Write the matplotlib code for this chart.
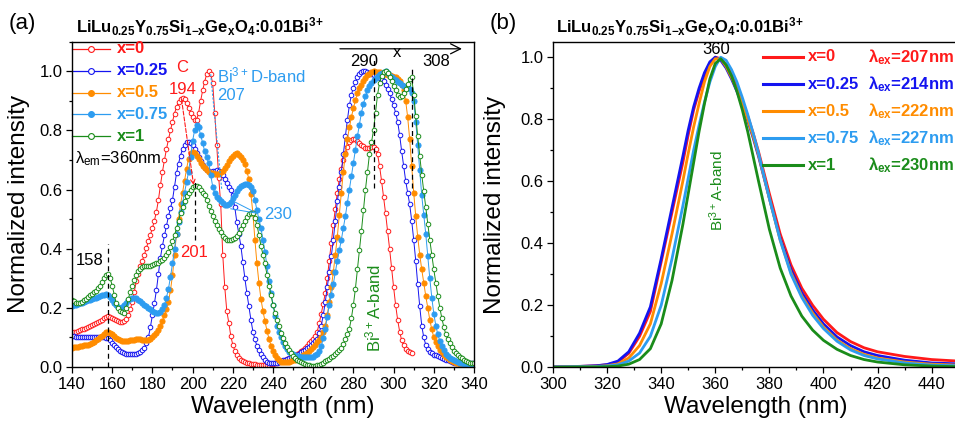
import numpy as np
import matplotlib
matplotlib.use('Agg')
import matplotlib.pyplot as plt
from matplotlib.ticker import MultipleLocator

plt.rcParams['font.family'] = ['Liberation Sans', 'DejaVu Sans']
plt.rcParams['mathtext.default'] = 'regular'

# ---- (a) excitation spectra, lambda_em = 360 nm, 1 nm steps ----
wl_exc = np.arange(140, 341, 1)
exc_x0 = [0.115, 0.117, 0.12, 0.122, 0.125, 0.127, 0.13, 0.132, 0.135, 0.138,
          0.142, 0.145, 0.148, 0.151, 0.155, 0.16, 0.165, 0.17, 0.172, 0.17,
          0.166, 0.163, 0.16, 0.156, 0.152, 0.152, 0.156, 0.164, 0.175, 0.195,
          0.22, 0.255, 0.29, 0.315, 0.34, 0.36, 0.38, 0.402, 0.425, 0.447,
          0.47, 0.495, 0.525, 0.565, 0.615, 0.66, 0.70, 0.737, 0.77, 0.80,
          0.83, 0.857, 0.88, 0.895, 0.905, 0.908, 0.905, 0.892, 0.875, 0.86,
          0.845, 0.835, 0.835, 0.86, 0.90, 0.935, 0.965, 0.99, 1.0, 0.99,
          0.96, 0.86, 0.75, 0.64, 0.55, 0.38, 0.27, 0.19, 0.15, 0.105,
          0.075, 0.055, 0.04, 0.031, 0.025, 0.021, 0.018, 0.015, 0.012, 0.011,
          0.01, 0.009, 0.008, 0.007, 0.007, 0.007, 0.007, 0.007, 0.008, 0.009,
          0.01, 0.012, 0.014, 0.016, 0.019, 0.021, 0.024, 0.026, 0.029, 0.032,
          0.036, 0.04, 0.045, 0.049, 0.053, 0.059, 0.065, 0.072, 0.08, 0.087,
          0.095, 0.105, 0.12, 0.148, 0.18, 0.213, 0.25, 0.30, 0.36, 0.42,
          0.48, 0.535, 0.59, 0.635, 0.67, 0.70, 0.725, 0.745, 0.76, 0.768,
          0.772, 0.77, 0.765, 0.758, 0.752, 0.746, 0.742, 0.741, 0.742, 0.744,
          0.745, 0.738, 0.72, 0.68, 0.63, 0.575, 0.52, 0.46, 0.40, 0.335,
          0.27, 0.21, 0.16, 0.12, 0.09, 0.073, 0.062, 0.055, 0.05, 0.046]
exc_x025 = [0.105, 0.104, 0.103, 0.102, 0.102, 0.101, 0.101, 0.10, 0.10, 0.10,
            0.10, 0.10, 0.10, 0.10, 0.10, 0.10, 0.10, 0.099, 0.097, 0.09,
            0.082, 0.074, 0.066, 0.06, 0.054, 0.05, 0.047, 0.045, 0.044, 0.044,
            0.044, 0.044, 0.045, 0.047, 0.05, 0.056, 0.065, 0.08, 0.10, 0.135,
            0.175, 0.215, 0.26, 0.315, 0.37, 0.41, 0.445, 0.478, 0.51, 0.538,
            0.565, 0.61, 0.655, 0.688, 0.715, 0.737, 0.752, 0.76, 0.762, 0.758,
            0.75, 0.738, 0.725, 0.71, 0.695, 0.682, 0.672, 0.666, 0.662, 0.661,
            0.662, 0.664, 0.665, 0.664, 0.66, 0.65, 0.635, 0.623, 0.61, 0.597,
            0.58, 0.54, 0.49, 0.45, 0.41, 0.355, 0.30, 0.25, 0.205, 0.16,
            0.12, 0.093, 0.072, 0.057, 0.045, 0.034, 0.025, 0.018, 0.013, 0.012,
            0.012, 0.013, 0.015, 0.017, 0.019, 0.022, 0.025, 0.028, 0.03, 0.033,
            0.035, 0.037, 0.04, 0.045, 0.05, 0.054, 0.058, 0.063, 0.068, 0.074,
            0.08, 0.087, 0.095, 0.115, 0.14, 0.175, 0.22, 0.27, 0.32, 0.375,
            0.43, 0.495, 0.56, 0.61, 0.66, 0.72, 0.78, 0.835, 0.885, 0.92,
            0.945, 0.965, 0.98, 0.99, 0.997, 1.0, 1.0, 0.998, 0.995, 0.991,
            0.987, 0.983, 0.98, 0.978, 0.975, 0.967, 0.955, 0.94, 0.925, 0.907,
            0.885, 0.86, 0.83, 0.785, 0.73, 0.68, 0.63, 0.59, 0.55, 0.495,
            0.43, 0.36, 0.28, 0.205, 0.14, 0.10, 0.075, 0.061, 0.052, 0.046,
            0.042, 0.039, 0.036, 0.033, 0.031, 0.028, 0.025, 0.022, 0.019, 0.017,
            0.015, 0.013, 0.012, 0.011, 0.011, 0.011, 0.011, 0.011, 0.012, 0.012,
            0.013]
exc_x05 = [0.065, 0.066, 0.067, 0.068, 0.07, 0.071, 0.073, 0.074, 0.076, 0.078,
           0.08, 0.085, 0.09, 0.095, 0.10, 0.106, 0.113, 0.118, 0.12, 0.116,
           0.11, 0.104, 0.098, 0.094, 0.09, 0.088, 0.087, 0.087, 0.088, 0.09,
           0.091, 0.092, 0.093, 0.093, 0.093, 0.092, 0.09, 0.09, 0.092, 0.095,
           0.10, 0.107, 0.115, 0.126, 0.14, 0.156, 0.175, 0.195, 0.22, 0.26,
           0.31, 0.38, 0.45, 0.50, 0.55, 0.59, 0.63, 0.67, 0.705, 0.722,
           0.727, 0.723, 0.715, 0.703, 0.69, 0.68, 0.672, 0.665, 0.66, 0.657,
           0.655, 0.653, 0.652, 0.654, 0.658, 0.664, 0.672, 0.683, 0.695, 0.706,
           0.715, 0.72, 0.722, 0.718, 0.71, 0.70, 0.685, 0.662, 0.635, 0.585,
           0.52, 0.43, 0.35, 0.285, 0.23, 0.19, 0.155, 0.123, 0.095, 0.072,
           0.053, 0.04, 0.03, 0.023, 0.018, 0.016, 0.016, 0.017, 0.018, 0.02,
           0.022, 0.025, 0.028, 0.031, 0.035, 0.039, 0.044, 0.049, 0.055, 0.061,
           0.068, 0.075, 0.083, 0.091, 0.10, 0.118, 0.14, 0.175, 0.22, 0.27,
           0.32, 0.38, 0.44, 0.515, 0.59, 0.66, 0.72, 0.77, 0.81, 0.845,
           0.875, 0.902, 0.925, 0.942, 0.955, 0.967, 0.978, 0.986, 0.992, 0.997,
           1.0, 0.999, 0.998, 0.996, 0.994, 0.992, 0.99, 0.988, 0.986, 0.984,
           0.982, 0.979, 0.975, 0.967, 0.955, 0.935, 0.90, 0.845, 0.77, 0.68,
           0.59, 0.51, 0.44, 0.38, 0.33, 0.285, 0.24, 0.20, 0.16, 0.127,
           0.10, 0.083, 0.07, 0.059, 0.05, 0.042, 0.035, 0.03, 0.025, 0.02,
           0.016, 0.014, 0.012, 0.01, 0.008, 0.006, 0.005, 0.0045, 0.004, 0.0035,
           0.003]
exc_x075 = [0.205, 0.208, 0.21, 0.213, 0.215, 0.218, 0.22, 0.223, 0.225, 0.228,
            0.23, 0.233, 0.235, 0.238, 0.24, 0.243, 0.245, 0.247, 0.245, 0.237,
            0.228, 0.218, 0.21, 0.203, 0.20, 0.202, 0.208, 0.216, 0.225, 0.231,
            0.235, 0.235, 0.232, 0.228, 0.222, 0.216, 0.21, 0.205, 0.20, 0.195,
            0.19, 0.186, 0.183, 0.183, 0.185, 0.195, 0.21, 0.235, 0.265, 0.305,
            0.35, 0.40, 0.45, 0.49, 0.525, 0.555, 0.59, 0.625, 0.66, 0.71,
            0.765, 0.80, 0.82, 0.81, 0.785, 0.758, 0.73, 0.71, 0.69, 0.65,
            0.61, 0.59, 0.575, 0.567, 0.56, 0.553, 0.548, 0.547, 0.55, 0.558,
            0.57, 0.583, 0.595, 0.605, 0.612, 0.617, 0.62, 0.619, 0.615, 0.607,
            0.595, 0.565, 0.53, 0.50, 0.47, 0.43, 0.39, 0.34, 0.29, 0.25,
            0.21, 0.172, 0.14, 0.118, 0.10, 0.084, 0.07, 0.06, 0.052, 0.048,
            0.044, 0.041, 0.038, 0.036, 0.034, 0.033, 0.033, 0.033, 0.033, 0.034,
            0.035, 0.039, 0.045, 0.055, 0.07, 0.097, 0.13, 0.17, 0.21, 0.245,
            0.28, 0.32, 0.36, 0.395, 0.43, 0.47, 0.51, 0.555, 0.60, 0.645,
            0.69, 0.735, 0.78, 0.82, 0.86, 0.89, 0.915, 0.935, 0.95, 0.96,
            0.97, 0.978, 0.985, 0.99, 0.995, 0.998, 1.0, 0.993, 0.985, 0.98,
            0.975, 0.97, 0.965, 0.96, 0.955, 0.951, 0.948, 0.944, 0.94, 0.925,
            0.90, 0.83, 0.75, 0.665, 0.58, 0.515, 0.45, 0.375, 0.30, 0.235,
            0.18, 0.14, 0.11, 0.088, 0.07, 0.056, 0.045, 0.037, 0.03, 0.026,
            0.022, 0.019, 0.016, 0.014, 0.012, 0.01, 0.009, 0.008, 0.007, 0.006,
            0.005]
exc_x1 = [0.228, 0.222, 0.218, 0.215, 0.215, 0.22, 0.225, 0.231, 0.237, 0.242,
          0.246, 0.252, 0.258, 0.266, 0.275, 0.287, 0.30, 0.31, 0.315, 0.30,
          0.275, 0.245, 0.215, 0.198, 0.19, 0.185, 0.183, 0.20, 0.23, 0.255,
          0.275, 0.295, 0.31, 0.323, 0.333, 0.338, 0.34, 0.341, 0.342, 0.343,
          0.345, 0.347, 0.35, 0.353, 0.357, 0.363, 0.37, 0.378, 0.39, 0.405,
          0.425, 0.445, 0.47, 0.495, 0.52, 0.542, 0.56, 0.577, 0.59, 0.60,
          0.607, 0.611, 0.612, 0.608, 0.60, 0.59, 0.58, 0.564, 0.545, 0.527,
          0.51, 0.494, 0.48, 0.467, 0.455, 0.444, 0.435, 0.431, 0.43, 0.43,
          0.433, 0.437, 0.442, 0.452, 0.465, 0.48, 0.495, 0.507, 0.516, 0.52,
          0.52, 0.505, 0.48, 0.447, 0.41, 0.38, 0.35, 0.312, 0.275, 0.242,
          0.21, 0.183, 0.16, 0.137, 0.115, 0.097, 0.082, 0.068, 0.056, 0.046,
          0.038, 0.031, 0.025, 0.02, 0.016, 0.013, 0.01, 0.008, 0.006, 0.005,
          0.005, 0.005, 0.006, 0.008, 0.01, 0.015, 0.02, 0.024, 0.028, 0.033,
          0.038, 0.044, 0.05, 0.057, 0.065, 0.078, 0.095, 0.11, 0.13, 0.165,
          0.21, 0.265, 0.33, 0.395, 0.46, 0.53, 0.60, 0.66, 0.72, 0.76,
          0.80, 0.86, 0.92, 0.96, 0.985, 0.996, 1.0, 0.993, 0.98, 0.966,
          0.95, 0.935, 0.92, 0.913, 0.915, 0.925, 0.94, 0.958, 0.975, 0.98,
          0.92, 0.85, 0.78, 0.715, 0.65, 0.595, 0.54, 0.485, 0.43, 0.38,
          0.33, 0.285, 0.24, 0.20, 0.165, 0.135, 0.11, 0.093, 0.08, 0.067,
          0.055, 0.047, 0.04, 0.035, 0.03, 0.025, 0.021, 0.018, 0.015, 0.013,
          0.012]

# ---- (b) emission spectra ----
wl_em = [300, 310, 316, 320, 324, 328, 332, 336, 340, 344, 348, 350, 352, 354,
         356, 358, 360, 362, 364, 366, 368, 370, 372, 374, 376, 380, 384, 388,
         392, 396, 400, 405, 410, 415, 420, 430, 440, 450]
em_x0 = [0.002, 0.003, 0.005, 0.008, 0.017, 0.045, 0.10, 0.18, 0.34, 0.50,
         0.66, 0.75, 0.83, 0.89, 0.94, 0.98, 1.0, 0.995, 0.975, 0.945, 0.905,
         0.86, 0.81, 0.755, 0.695, 0.56, 0.43, 0.33, 0.255, 0.20, 0.155, 0.112,
         0.083, 0.063, 0.05, 0.035, 0.025, 0.02]
em_x025 = [0.002, 0.003, 0.005, 0.009, 0.02, 0.05, 0.11, 0.195, 0.35, 0.515,
           0.68, 0.765, 0.84, 0.90, 0.95, 0.985, 1.0, 0.99, 0.965, 0.93, 0.89,
           0.845, 0.795, 0.74, 0.68, 0.545, 0.415, 0.315, 0.24, 0.185, 0.14,
           0.098, 0.07, 0.05, 0.038, 0.023, 0.014, 0.011]
em_x05 = [0.001, 0.002, 0.003, 0.005, 0.011, 0.03, 0.07, 0.14, 0.27, 0.43,
          0.60, 0.69, 0.775, 0.85, 0.92, 0.97, 0.995, 0.995, 0.97, 0.935, 0.895,
          0.85, 0.80, 0.745, 0.685, 0.545, 0.41, 0.305, 0.23, 0.175, 0.13,
          0.088, 0.06, 0.042, 0.03, 0.017, 0.01, 0.007]
em_x075 = [0.001, 0.002, 0.002, 0.004, 0.008, 0.02, 0.046, 0.10, 0.20, 0.35,
           0.52, 0.61, 0.70, 0.78, 0.855, 0.92, 0.97, 1.0, 0.99, 0.96, 0.92,
           0.87, 0.815, 0.755, 0.69, 0.545, 0.41, 0.30, 0.225, 0.168, 0.125,
           0.084, 0.056, 0.038, 0.027, 0.014, 0.007, 0.005]
em_x1 = [0.0, 0.001, 0.001, 0.002, 0.004, 0.01, 0.025, 0.06, 0.14, 0.28, 0.46,
         0.56, 0.66, 0.76, 0.85, 0.93, 0.98, 0.995, 0.975, 0.94, 0.89, 0.83,
         0.76, 0.68, 0.60, 0.445, 0.32, 0.23, 0.165, 0.12, 0.087, 0.058, 0.038,
         0.025, 0.017, 0.008, 0.004, 0.002]

labels = ['x=0', 'x=0.25', 'x=0.5', 'x=0.75', 'x=1']
ex_labels = ['207nm', '214nm', '222nm', '227nm', '230nm']
colors = ['#ff1a1a', '#1414f0', '#ff8c00', '#2d9cf0', '#1a8c1a']
filled = [False, False, True, True, False]
exc_data = [exc_x0, exc_x025, exc_x05, exc_x075, exc_x1]
em_data = [em_x0, em_x025, em_x05, em_x075, em_x1]

fig = plt.figure(figsize=(9.55, 4.26), dpi=100)
ax1 = fig.add_axes([72/955, 59/426, 402/955, 325.3/426])
ax2 = fig.add_axes([553/955, 58.7/426, 405.7/955, 325.6/426])

def style(ax):
    ax.tick_params(which='both', direction='out', top=False, right=False,
                   labelsize=12, width=0.9, pad=2.5)
    ax.tick_params(which='major', length=4.5)
    ax.tick_params(which='minor', length=2.5)
    for s in ax.spines.values():
        s.set_linewidth(1.0)
    ax.set_xlabel('Wavelength (nm)', fontsize=17.5)
    ax.set_ylabel('Normalized intensity', fontsize=17.5)

# (a)
for ys, c, f in zip(exc_data, colors, filled):
    ax1.plot(wl_exc[:len(ys)], ys, '-o', color=c, lw=0.7,
             ms=3.7 if f else 3.3, mew=0.7,
             mfc=c if f else 'white', mec=c)
ax1.set_xlim(140, 340)
ax1.set_ylim(0, 1.1)
ax1.xaxis.set_major_locator(MultipleLocator(20))
ax1.xaxis.set_minor_locator(MultipleLocator(10))
ax1.yaxis.set_minor_locator(MultipleLocator(0.1))
ax1.set_yticks([0, 0.2, 0.4, 0.6, 0.8, 1.0])
style(ax1)
ax1.yaxis.set_label_coords(-0.104, 0.5)
ax1.xaxis.set_label_coords(0.5236, -0.088)

# legend (a)
leg_y = [1.077, 1.002, 0.928, 0.854, 0.78]
for lab, c, f, y in zip(labels, colors, filled, leg_y):
    ax1.plot([140, 158.9], [y, y], '-', color=c, lw=0.9, clip_on=False)
    ax1.plot([149.5], [y], 'o', color=c, ms=4.2, mew=0.8,
             mfc=c if f else 'white', mec=c, clip_on=False)
    ax1.text(162.4, y, lab, color=c, fontsize=12, fontweight='bold',
             va='center', ha='left')
ax1.text(141.5, 0.706, 'λ$_{em}$=360nm', fontsize=12, va='center')

# guide lines and labels
dash = dict(color='black', lw=0.9, ls=(0, (4, 3)))
ax1.plot([158, 158], [0, 0.415], **dash)
ax1.plot([201, 201], [0.43, 0.63], **dash)
ax1.plot([290, 290], [0.605, 1.04], **dash)
ax1.plot([309, 309], [0.605, 1.016], **dash)
ax1.text(148.7, 0.36, '158', fontsize=12, ha='center', va='center')
ax1.text(285.5, 1.033, '290', fontsize=12, ha='center', va='center')
ax1.text(321.3, 1.033, '308', fontsize=12, ha='center', va='center')
ax1.text(301.6, 1.062, 'x', fontsize=12, ha='center', va='center')
ax1.annotate('', xy=(334, 1.076), xytext=(273.3, 1.076),
             arrowprops=dict(arrowstyle='->', lw=0.9, color='black',
                             mutation_scale=18, shrinkA=0, shrinkB=0),
             annotation_clip=False)

ax1.text(194.7, 1.012, 'C', color=colors[0], fontsize=12, ha='center', va='center')
ax1.text(195, 0.94, '194', color=colors[0], fontsize=12, ha='center', va='center')
ax1.text(200.8, 0.387, '201', color=colors[0], fontsize=12, ha='center', va='center')
ax1.annotate('', xy=(200.5, 0.615), xytext=(194.5, 0.905),
             arrowprops=dict(arrowstyle='->', lw=0.8, color=colors[0],
                             ls='--', shrinkA=0, shrinkB=0, mutation_scale=8))
ax1.text(212, 0.985, 'Bi$^{3+}$D-band', color=colors[3], fontsize=12,
         ha='left', va='center')
ax1.text(212, 0.918, '207', color=colors[3], fontsize=12, ha='left', va='center')
ax1.plot([209, 214.5], [0.99, 0.6], color=colors[3], lw=0.8, ls=(0, (2, 1.5)))
ax1.plot([219, 232], [0.565, 0.52], color=colors[3], lw=0.7)
ax1.plot([219, 232], [0.535, 0.52], color=colors[3], lw=0.7)
ax1.text(242.6, 0.516, '230', color=colors[3], fontsize=12, ha='center', va='center')
ax1.text(290, 0.2, 'Bi$^{3+}$A-band', color=colors[4], fontsize=12,
         rotation=90, ha='center', va='center')

# (b)
for ys, c in zip(em_data, colors):
    ax2.plot(wl_em, ys, '-', color=c, lw=2.0)
ax2.set_xlim(300, 450)
ax2.set_ylim(0, 1.05)
ax2.xaxis.set_minor_locator(MultipleLocator(10))
ax2.yaxis.set_major_locator(MultipleLocator(0.2))
ax2.yaxis.set_minor_locator(MultipleLocator(0.1))
style(ax2)
ax2.set_xticks([300, 320, 340, 360, 380, 400, 420, 440])
ax2.yaxis.set_label_coords(-0.116, 0.5)
ax2.xaxis.set_label_coords(0.499, -0.088)
ax2.spines['right'].set_visible(False)

leg2_y = [1.001, 0.913, 0.826, 0.739, 0.652]
for lab, exl, c, y in zip(labels, ex_labels, colors, leg2_y):
    ax2.plot([377.6, 392.4], [y, y], '-', color=c, lw=2.2)
    ax2.text(394.3, y, lab, color=c, fontsize=12, fontweight='bold',
             va='center', ha='left')
    ax2.text(416.5, y, 'λ$_{ex}$=' + exl, color=c, fontsize=12,
             fontweight='bold', va='center', ha='left')
ax2.text(360.3, 1.025, '360', fontsize=12, ha='center', va='center')
ax2.text(360.4, 0.57, 'Bi$^{3+}$A-band', color=colors[4], fontsize=11,
         rotation=90, ha='center', va='center')

title = 'LiLu$_{0.25}$Y$_{0.75}$Si$_{1{-}x}$Ge$_{x}$O$_{4}$:0.01Bi$^{3{+}}$'
fig.text(76/955, 1 - 33/426, title, fontsize=12, fontweight='bold',
         ha='left', va='baseline')
fig.text(556/955, 1 - 33/426, title, fontsize=12, fontweight='bold',
         ha='left', va='baseline')
fig.text(22/955, 1 - 24/426, '(a)', fontsize=16, ha='center', va='center')
fig.text(503/955, 1 - 24/426, '(b)', fontsize=16, ha='center', va='center')

fig.savefig('out.png', dpi=100)
